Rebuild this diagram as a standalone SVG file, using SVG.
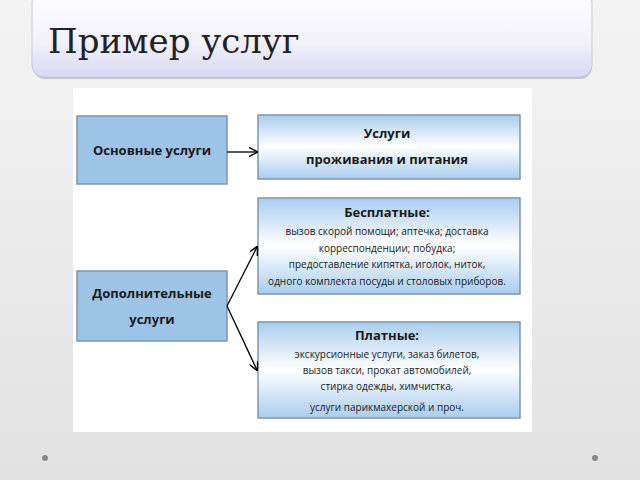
<svg xmlns="http://www.w3.org/2000/svg" width="640" height="480" viewBox="0 0 640 480">
<defs>
<linearGradient id="bg" x1="0" y1="0" x2="0" y2="1"><stop offset="0" stop-color="#f4f4f4"/><stop offset="1" stop-color="#e2e2e2"/></linearGradient>
<linearGradient id="tg" x1="0" y1="0" x2="0" y2="1"><stop offset="0" stop-color="#ffffff"/><stop offset="0.6" stop-color="#f2f1fb"/><stop offset="1" stop-color="#d9d8f0"/></linearGradient>
<linearGradient id="bx" x1="0" y1="0" x2="0" y2="1"><stop offset="0" stop-color="#a9cdef"/><stop offset="0.5" stop-color="#ffffff"/><stop offset="1" stop-color="#a9cdef"/></linearGradient>
<marker id="ar" viewBox="0 0 10 10" refX="9" refY="5" markerWidth="7" markerHeight="7" orient="auto"><path d="M0,0 L10,5 L0,10" fill="none" stroke="#000" stroke-width="1.6"/></marker>
</defs>
<style>
.dark{fill:#9dc3e6;stroke:#7f95aa;stroke-width:1.5}
.light{fill:url(#bx);stroke:#7f95aa;stroke-width:1.5}
text{font-family:"Open Sans","Liberation Sans",sans-serif;text-anchor:middle;fill:#1a1a1a}
.b{font-weight:bold;font-size:13px}
.s{font-size:10px}
.c{stroke:#000;stroke-width:1.3;fill:none;marker-end:url(#ar)}
</style>
<rect width="640" height="480" fill="url(#bg)"/>
<rect x="33" y="-10" width="559" height="89" rx="12" fill="#9a9ab0" opacity="0.5"/>
<rect x="32" y="-10" width="560" height="87" rx="12" fill="url(#tg)" stroke="#c8c8d8"/>
<text x="48" y="53" style="font-family:'DejaVu Serif',serif;font-size:34px;text-anchor:start;fill:#222">Пример услуг</text>
<circle cx="45" cy="458" r="3" fill="#888"/>
<circle cx="595" cy="458" r="3" fill="#888"/>
<rect x="73" y="88" width="459" height="344" fill="#ffffff"/>
<g id="n1"><rect class="dark" x="77" y="116" width="150" height="68"/><text class="b" x="152" y="155">Основные услуги</text></g>
<g id="n2"><rect class="light" x="258" y="115" width="262" height="64"/><text class="b" x="387" y="138">Услуги</text><text class="b" x="387" y="164">проживания и питания</text></g>
<g id="n3"><rect class="light" x="258" y="198" width="262" height="96"/><text class="b" x="387" y="217">Бесплатные:</text><text class="s" x="387" y="235">вызов скорой помощи; аптечка; доставка</text><text class="s" x="387" y="252">корреспонденции; побудка;</text><text class="s" x="387" y="268">предоставление кипятка, иголок, ниток,</text><text class="s" x="387" y="285">одного комплекта  посуды и столовых приборов.</text></g>
<g id="n4"><rect class="dark" x="77" y="271" width="150" height="70"/><text class="b" x="152" y="298">Дополнительные</text><text class="b" x="152" y="324">услуги</text></g>
<g id="n5"><rect class="light" x="258" y="322" width="262" height="96"/><text class="b" x="387" y="340">Платные:</text><text class="s" x="387" y="358">экскурсионные услуги, заказ билетов,</text><text class="s" x="387" y="374">вызов такси, прокат автомобилей,</text><text class="s" x="387" y="390">стирка одежды, химчистка,</text><text class="s" x="387" y="411">услуги парикмахерской и проч.</text></g>
<g id="connectors">
<line class="c" x1="227" y1="152" x2="257" y2="152"/>
<line class="c" x1="227" y1="306" x2="257" y2="247"/>
<line class="c" x1="227" y1="306" x2="257" y2="370"/>
</g>
</svg>
